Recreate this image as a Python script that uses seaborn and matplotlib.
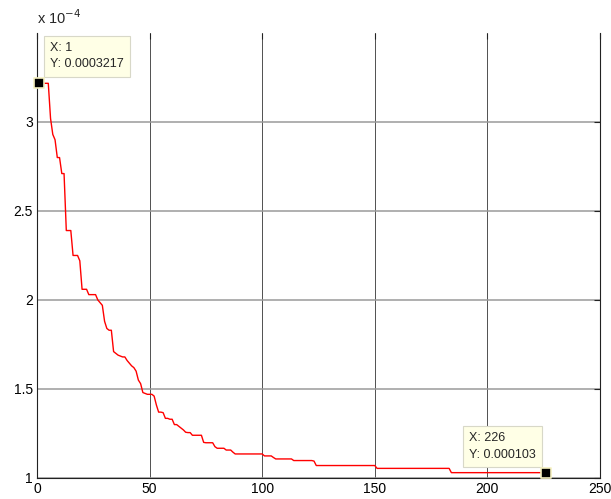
import numpy as np
import pandas as pd
import matplotlib
matplotlib.use("Agg")
import matplotlib.pyplot as plt
import seaborn as sns

# ----------------------------------------------------------
# data (fitness in units of 1e-4, stepwise best-so-far)
# ----------------------------------------------------------
levels = [3.217, 3.02, 2.93, 2.90, 2.80, 2.71, 2.39, 2.25, 2.22, 2.06,
          2.03, 2.00, 1.985, 1.97, 1.88, 1.84, 1.83, 1.71, 1.70, 1.69,
          1.685, 1.68, 1.66, 1.645, 1.63, 1.62, 1.60, 1.55, 1.53, 1.48,
          1.475, 1.47, 1.46, 1.41, 1.37, 1.367, 1.335, 1.33, 1.30, 1.29,
          1.28, 1.27, 1.257, 1.255, 1.24, 1.20, 1.198, 1.176, 1.167, 1.157,
          1.145, 1.135, 1.124, 1.115, 1.107, 1.098, 1.095, 1.07, 1.054, 1.03]
run_lengths = [5, 1, 1, 1, 2, 2, 3, 3, 1, 3,
               4, 1, 1, 1, 1, 1, 2, 1, 1, 1,
               1, 2, 1, 1, 1, 1, 1, 1, 1, 1,
               1, 3, 1, 1, 2, 1, 2, 2, 2, 1,
               1, 1, 1, 2, 5, 1, 4, 1, 4, 3,
               1, 13, 4, 1, 8, 9, 1, 27, 33, 43]

best_fit = np.repeat(levels, run_lengths)
iterations = np.arange(1, len(best_fit) + 1)

tip_x = [1, 226]
tip_y = [3.217, 1.03]
tip_text = ["X: 1\nY: 0.0003217", "X: 226\nY: 0.000103"]

x_ticks = [0, 50, 100, 150, 200, 250]
y_ticks = [1, 1.5, 2, 2.5, 3]

# ----------------------------------------------------------
# plot
# ----------------------------------------------------------
sns.set_style("white")
plt.rcParams['font.family'] = ['Liberation Sans', 'DejaVu Sans']

df = pd.DataFrame({"iteration": iterations, "fitness": best_fit})

fig = plt.figure(figsize=(6.11, 4.99), dpi=100)
ax = fig.add_axes([0.0606, 0.0421, 0.9214, 0.8919])

sns.lineplot(data=df, x="iteration", y="fitness", color="red", lw=1.0, ax=ax)
sns.scatterplot(x=tip_x, y=tip_y, marker="s", s=55, color="black",
                edgecolor="#f5f0c0", linewidth=1.2, zorder=5, ax=ax,
                clip_on=False)

ax.set_xlim(0, 250)
ax.set_ylim(1, 3.5)
ax.set_xticks(x_ticks)
ax.set_yticks(y_ticks)
ax.set_xticklabels([str(t) for t in x_ticks])
ax.set_yticklabels(["1", "1.5", "2", "2.5", "3"])
ax.set_xlabel("")
ax.set_ylabel("")

ax.grid(axis="x", color="#505050", lw=0.7)
ax.grid(axis="y", color="#9a9a9a", lw=1.1)
ax.set_axisbelow(True)

for side in ["left", "bottom", "right"]:
    ax.spines[side].set_color("#222222")
    ax.spines[side].set_linewidth(0.8)
ax.spines["top"].set_visible(False)

ax.tick_params(direction="in", length=4, width=0.8, colors="#222222",
               labelcolor="black", labelsize=10, top=True, right=True,
               pad=3)

fig.text(0.0606, 0.945, r"x 10$^{-4}$", fontsize=10.5, ha="left", va="bottom")

# data tips
ax.text(5.8, 3.45, tip_text[0], fontsize=9, va="top", ha="left",
        linespacing=1.5,
        bbox=dict(boxstyle="square,pad=0.5", fc="#ffffe6", ec="#d8d8c8", lw=0.8))
ax.text(191.8, 1.258, tip_text[1], fontsize=9, va="top", ha="left",
        linespacing=1.5,
        bbox=dict(boxstyle="square,pad=0.5", fc="#ffffe6", ec="#d8d8c8", lw=0.8))

fig.savefig("out.png", dpi=100)
